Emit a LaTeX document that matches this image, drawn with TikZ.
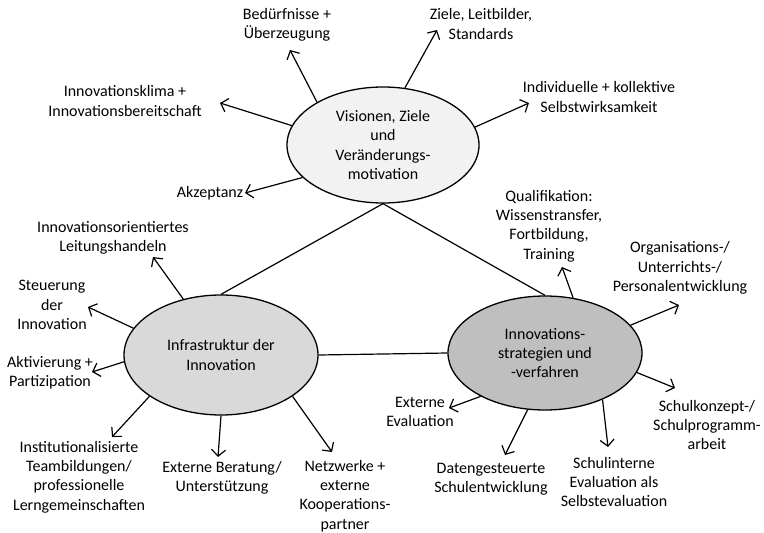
\documentclass[tikz,border=0pt]{standalone}
\usepackage{fontspec}
\setmainfont{Carlito}
\usetikzlibrary{arrows.meta,shapes.geometric}

\definecolor{visfill}{HTML}{F2F2F2}
\definecolor{inffill}{HTML}{D9D9D9}
\definecolor{strfill}{HTML}{BFBFBF}

\tikzset{
  bubble/.style={ellipse, draw, line width=1.3pt, inner sep=0pt, align=center},
  lbl/.style={align=center, inner sep=1pt},
  arr/.style={-{Straight Barb[length=6.5pt,width=14pt]}, line width=1.2pt},
  link/.style={line width=1.2pt}
}

\begin{document}
\begin{tikzpicture}[x=1pt, y=-1pt, font=\fontsize{16}{19.3}\selectfont]
\useasboundingbox (0,0) rectangle (764,533);

\node[bubble, fill=visfill, minimum width=192pt, minimum height=116pt] (vis) at (383,145) {Visionen, Ziele\\und\\Veränderungs-\\motivation};
\node[bubble, fill=inffill, minimum width=194pt, minimum height=120pt] (inf) at (221,355) {Infrastruktur der\\Innovation};
\node[bubble, fill=strfill, minimum width=194pt, minimum height=114pt] (str) at (545,353) {Innovations-\\strategien und\\-verfahren};

\draw[link] (vis.south) -- (inf.north);
\draw[link] (vis.south) -- (str.north);
\draw[link] (inf.east) -- (str.west);

% Visionen
\node[lbl] (bed) at (287,25) {Bedürfnisse +\\Überzeugung};
\node[lbl] (zie) at (481,24) {Ziele, Leitbilder,\\Standards};
\node[lbl] (ind) at (599,97) {Individuelle + kollektive\\Selbstwirksamkeit};
\node[lbl] (kli) at (125,101) {Innovationsklima +\\Innovationsbereitschaft};
\node[lbl] (akz) at (210,193) {Akzeptanz};
\coordinate (bedTip) at (290,50);
\coordinate (zieTip) at (437,30);
\coordinate (indTip) at (529,103);
\coordinate (kliTip) at (220,103);
\coordinate (akzTip) at (245,193);
\draw[arr] (vis.147) -- (bedTip);
\draw[arr] (vis.69) -- (zieTip);
\draw[arr] (vis.11) -- (indTip);
\draw[arr] (vis.168) -- (kliTip);
\draw[arr] (vis.202) -- (akzTip);

% Infrastruktur
\node[lbl] (lei) at (113,238) {Innovationsorientiertes\\Leitungshandeln};
\node[lbl] (ste) at (52,305) {Steuerung\\der\\Innovation};
\node[lbl] (akt) at (50,373) {Aktivierung +\\Partizipation};
\node[lbl] (ins) at (79,477) {Institutionalisierte\\Teambildungen/\\professionelle\\Lerngemeinschaften};
\node[lbl] (ber) at (222,478) {Externe Beratung/\\Unterstützung};
\node[lbl] (net) at (345,496) {Netzwerke +\\externe\\Kooperations-\\partner};
\coordinate (leiTip) at (153,257);
\coordinate (steTip) at (88,307);
\coordinate (aktTip) at (92,372);
\coordinate (insTip) at (112,437);
\coordinate (berTip) at (218,457);
\coordinate (netTip) at (332,452);
\draw[arr] (inf.124) -- (leiTip);
\draw[arr] (inf.163) -- (steTip);
\draw[arr] (inf.184) -- (aktTip);
\draw[arr] (inf.210) -- (insTip);
\draw[arr] (inf.270) -- (berTip);
\draw[arr] (inf.330) -- (netTip);

% Strategien
\node[lbl] (qua) at (549,226) {Qualifikation:\\Wissenstransfer,\\Fortbildung,\\Training};
\node[lbl] (org) at (680,268) {Organisations-/\\Unterrichts-/\\Personalentwicklung};
\node[lbl] (skp) at (707,425) {Schulkonzept-/\\Schulprogramm-\\arbeit};
\node[lbl] (sin) at (614,482) {Schulinterne\\Evaluation als\\Selbstevaluation};
\node[lbl] (dat) at (491,479) {Datengesteuerte\\Schulentwicklung};
\node[lbl] (ext) at (420,412) {Externe\\Evaluation};
\coordinate (quaTip) at (562,267);
\coordinate (orgTip) at (679,305);
\coordinate (skpTip) at (675,388);
\coordinate (sinTip) at (608,447);
\coordinate (datTip) at (505,455);
\coordinate (extTip) at (449,408);
\draw[arr] (str.63) -- (quaTip);
\draw[arr] (str.18) -- (orgTip);
\draw[arr] (str.348) -- (skpTip);
\draw[arr] (str.321) -- (sinTip);
\draw[arr] (str.253) -- (datTip);
\draw[arr] (str.214) -- (extTip);
\end{tikzpicture}
\end{document}
